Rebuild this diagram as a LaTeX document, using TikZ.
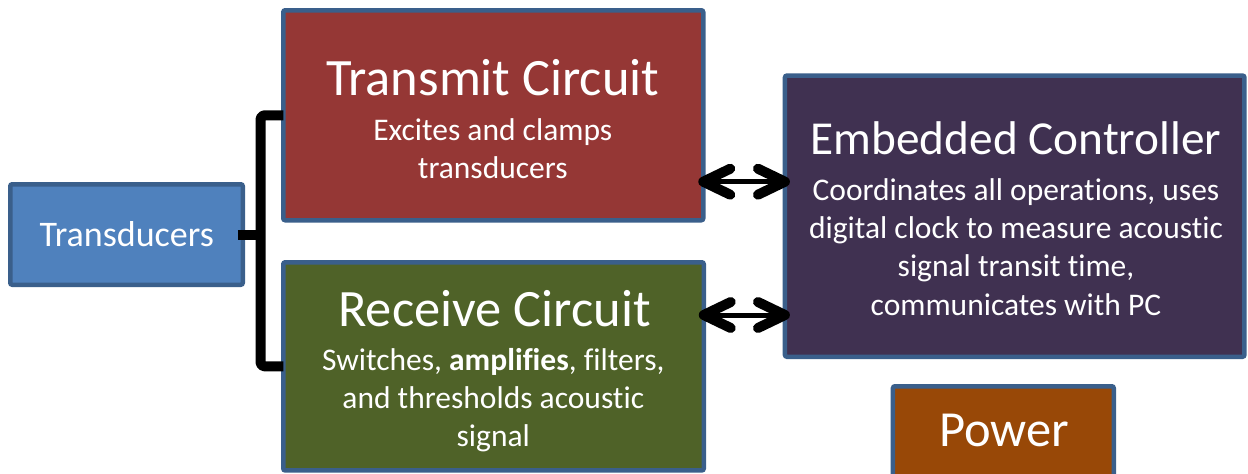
\documentclass[tikz,border=0pt]{standalone}
\usepackage{fontspec}
\setmainfont{Carlito}[Ligatures=CommonOff]
\usetikzlibrary{arrows.meta}

\definecolor{edgeblue}{HTML}{3A5F8B}
\definecolor{tdblue}{HTML}{4F81BD}
\definecolor{txred}{HTML}{953735}
\definecolor{rxgreen}{HTML}{4F6228}
\definecolor{ecpurple}{HTML}{403151}
\definecolor{pwbrown}{HTML}{984807}

\tikzset{
  block/.style={draw=edgeblue, line width=4.5pt, rounded corners=2pt,
    inner sep=0pt, outer sep=0pt},
  % multi-line texts: base anchor sits on the last line's baseline
  boxtext/.style={text=white, inner sep=0pt, outer sep=0pt, anchor=base, align=center},
  titlefont/.style={font=\fontsize{52.5}{63}\selectfont},
  bodyfont/.style={font=\fontsize{31.5}{38.3}\selectfont},
  bracket/.style={line width=10pt, line join=round, rounded corners=4pt},
  barb/.tip={Straight Barb[length=27pt, width=26pt, line width=10pt, round]},
  link/.style={line width=5pt, barb-barb, shorten <=-5pt, shorten >=-5pt}
}

\begin{document}
\begin{tikzpicture}[x=1pt, y=-1pt]
\useasboundingbox (0,0) rectangle (1248,474);

% blocks
\node[block, fill=tdblue, minimum width=232.5pt, minimum height=100.5pt] (td) at (126.5,234.5) {};
\node[block, fill=txred, minimum width=420pt, minimum height=210pt] (tx) at (493.25,115.25) {};
\node[block, fill=rxgreen, minimum width=420.5pt, minimum height=208.2pt] (rx) at (493.5,366.35) {};
\node[block, fill=ecpurple, minimum width=459.5pt, minimum height=281.2pt] (ec) at (1014.7,216.15) {};
\node[block, fill=pwbrown, minimum width=220.8pt, minimum height=97.5pt] (pw) at (1003.35,435) {};

% block texts
\node[boxtext, font=\fontsize{36}{43}\selectfont] (tdtext) at (126.7,246) {Transducers};
\node[boxtext, titlefont] (txtitle) at (492.8,95) {Transmit Circuit};
\node[boxtext, bodyfont] (txbody) at (492.8,178.3) {Excites and clamps\\transducers};
\node[boxtext, titlefont] (rxtitle) at (494.5,326) {Receive Circuit};
\node[boxtext, bodyfont] (rxbody) at (493.3,446.7) {Switches, \textbf{amplifies}, filters,\\and thresholds acoustic\\signal};
\node[boxtext, font=\fontsize{47.3}{56}\selectfont] (ectitle) at (1016,154.3) {Embedded Controller};
\node[boxtext, bodyfont] (ecbody) at (1016,315) {Coordinates all operations, uses\\digital clock to measure acoustic\\signal transit time,\\communicates with PC};
\node[boxtext, font=\fontsize{50.5}{60}\selectfont] (pwtext) at (1004,446) {Power};

% bracket joining the transducers to both circuits
\coordinate (jx) at (260.5,234.5);
\draw[bracket] (tx.west) -- (tx.west -| jx) -- (rx.west -| jx) -- (rx.west);
\draw[bracket, shorten <=-5pt] (td.east) -- (jx);

% two-way links to the controller
\coordinate (uplink) at (0,181.7);
\coordinate (lowlink) at (0,315);
\draw[link] (tx.east |- uplink) -- (ec.west |- uplink);
\draw[link] (rx.east |- lowlink) -- (ec.west |- lowlink);
\end{tikzpicture}
\end{document}
